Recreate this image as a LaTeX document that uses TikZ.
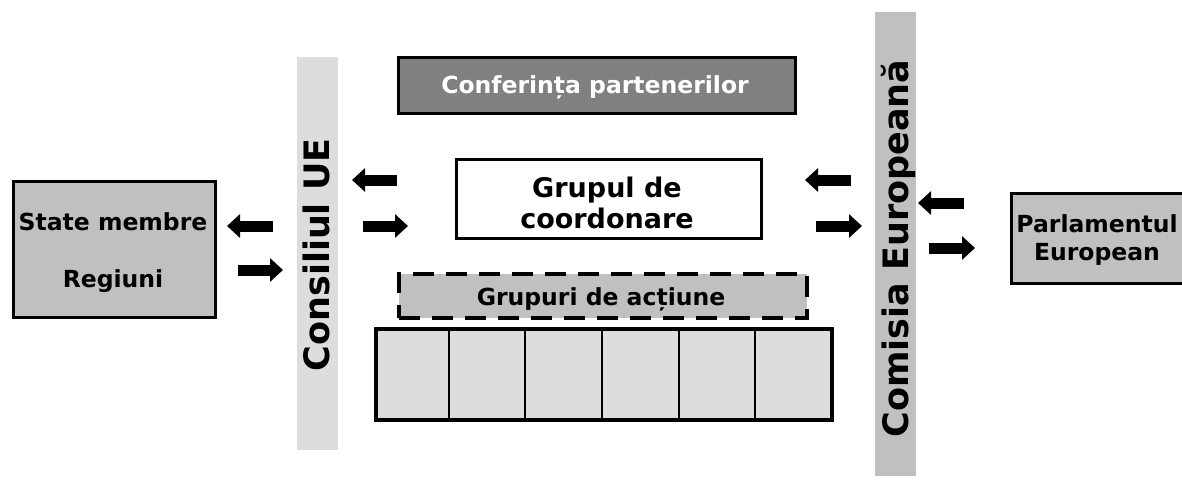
\documentclass[tikz,border=0pt]{standalone}
\usepackage{fontspec}
\setmainfont{DejaVu Sans}
\usetikzlibrary{arrows.meta}
\definecolor{gA}{HTML}{C0C0C0}
\definecolor{gB}{HTML}{808080}
\definecolor{gC}{HTML}{DDDDDD}
\begin{document}
\begin{tikzpicture}[x=1pt,y=-1pt,
  box/.style={draw=black, line width=3pt, inner sep=0pt, anchor=north west},
  lbl/.style={font=\bfseries\fontsize{23.5}{28}\selectfont, anchor=base, inner sep=0pt},
  biglbl/.style={font=\bfseries\fontsize{27}{31}\selectfont, anchor=base, inner sep=0pt},
  vlbl/.style={font=\bfseries\fontsize{35}{40}\selectfont, anchor=base, inner sep=0pt, rotate=90},
  blockarrow/.style={line width=11pt, line cap=butt, -{Triangle[length=13pt,width=23pt]}},
]
\useasboundingbox (0,0) rectangle (1182,479);
\fill[white] (0,0) rectangle (1182,479);

% vertical bars
\fill[gC] (297,57) rectangle (338,450);
\fill[gA] (875,12) rectangle (916,476);
\node[vlbl] (consiliu) at (329,255) {Consiliul UE};
\node[vlbl] (comisia) at (908,248.5) {Comisia Europeană};

% boxes
\node[box, fill=gA, minimum width=202pt, minimum height=136pt] (state) at (11.5,179.5) {};
\node[lbl] (t1) at (113,230) {State membre};
\node[lbl] (t2) at (113,287) {Regiuni};

\node[box, fill=gB, minimum width=397pt, minimum height=56pt] (conf) at (396.5,55.5) {};
\node[lbl, text=white] (t3) at (595,93) {Conferința partenerilor};

\node[box, fill=white, minimum width=305pt, minimum height=79pt] (grup) at (454.5,157.5) {};
\node[biglbl] (t4) at (607,197) {Grupul de};
\node[biglbl] (t5) at (607,228) {coordonare};

\node[box, fill=gA, line width=4pt, dash pattern=on 21pt off 12pt, minimum width=408pt, minimum height=44pt] (actiune) at (397,272) {};
\node[lbl] (t6) at (601,305) {Grupuri de acțiune};

\node[box, fill=gC, line width=4pt, minimum width=456pt, minimum height=91pt] (grid) at (374,327) {};
\foreach \k in {1,...,5} {
  \draw[line width=2pt] ({372+\k*76.667},327) -- ({372+\k*76.667},418);
}

\node[box, fill=gA, minimum width=180pt, minimum height=90pt] (parl) at (1009.5,191.5) {};
\node[lbl] (t7) at (1097,232) {Parlamentul};
\node[lbl] (t8) at (1097,260) {European};

% arrows
\coordinate (a1s) at (273,226); \coordinate (a1e) at (227,226);
\coordinate (a2s) at (238,270); \coordinate (a2e) at (283,270);
\coordinate (a3s) at (397,180); \coordinate (a3e) at (352,180);
\coordinate (a4s) at (363,226); \coordinate (a4e) at (408,226);
\coordinate (a5s) at (851,180); \coordinate (a5e) at (805,180);
\coordinate (a6s) at (816,226); \coordinate (a6e) at (862,226);
\coordinate (a7s) at (964,203); \coordinate (a7e) at (918,203);
\coordinate (a8s) at (929,248); \coordinate (a8e) at (975,248);
\foreach \i in {1,...,8} { \draw[blockarrow] (a\i s) -- (a\i e); }
\end{tikzpicture}
\end{document}
